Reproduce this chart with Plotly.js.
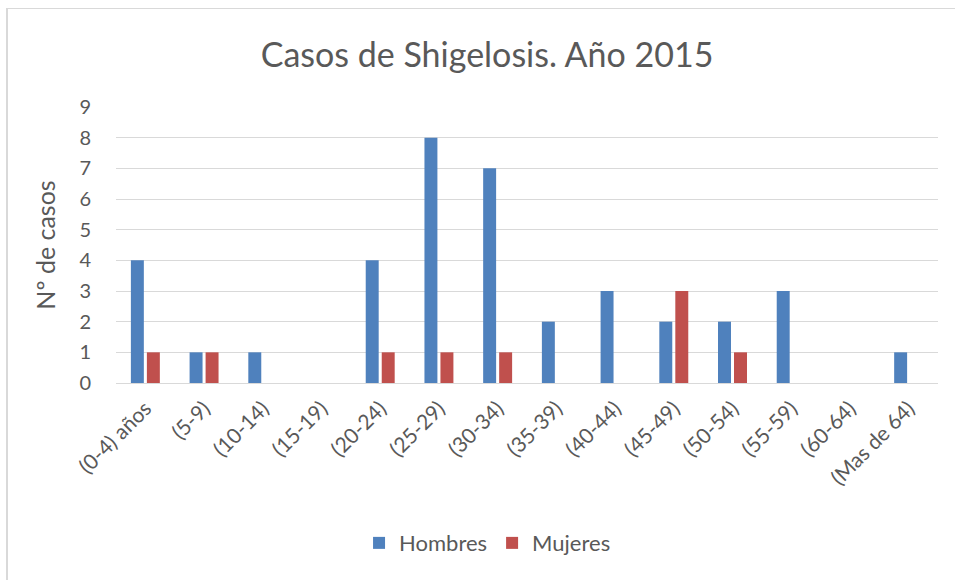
<!DOCTYPE html>
<html>
<head>
<meta charset="utf-8">
<script src="https://cdn.plot.ly/plotly-3.0.1.min.js"></script>
<style>
html,body{margin:0;padding:0;background:#fff;}
#wrap{position:relative;width:955px;height:580px;overflow:hidden;}
#chart{width:955px;height:580px;}
#frame{position:absolute;left:6px;top:8px;width:980px;height:600px;border-top:1px solid #d9d9d9;border-left:2px solid #d9d9d9;pointer-events:none;}
</style>
</head>
<body>
<div id="wrap"><div id="chart"></div><div id="frame"></div></div>
<script>
const categories = ["(0-4) años","(5-9)","(10-14)","(15-19)","(20-24)","(25-29)","(30-34)","(35-39)","(40-44)","(45-49)","(50-54)","(55-59)","(60-64)","(Mas de 64)"];
const hombres = [4,1,1,0,4,8,7,2,3,2,2,3,0,1];
const mujeres = [1,1,0,0,1,1,1,0,0,3,1,0,0,0];
const yTicks = [0,1,2,3,4,5,6,7,8,9];

const font = "Lato, 'Open Sans', sans-serif";
const traces = [
  {type:'bar', name:'Hombres', x:categories, y:hombres, marker:{color:'#4f81bd'}},
  {type:'bar', name:'Mujeres', x:categories, y:mujeres, marker:{color:'#c0504d'}}
];
const layout = {
  width:955, height:580,
  margin:{l:116, r:17, t:107, b:197},
  paper_bgcolor:'rgba(0,0,0,0)', plot_bgcolor:'rgba(0,0,0,0)',
  barmode:'group', bargap:0.455, bargroupgap:0.19,
  font:{family:font, color:'#595959', size:20},
  title:{text:'Casos de Shigelosis. Año 2015', font:{family:font, size:34, color:'#595959'}, x:0.51, xanchor:'center', y:0.905, yanchor:'middle'},
  xaxis:{type:'category', tickangle:-45, showgrid:false, showline:true, linecolor:'#d9d9d9', linewidth:1, ticks:'outside', ticklen:4, tickcolor:'rgba(0,0,0,0)', tickfont:{size:21, color:'#595959'}, fixedrange:true},
  yaxis:{range:[0,9], tickvals:yTicks, ticktext:yTicks.map(String), showgrid:true, gridcolor:'#d9d9d9', gridwidth:1, zeroline:true, zerolinecolor:'#d9d9d9', showline:false, ticks:'outside', ticklen:20, tickcolor:'rgba(0,0,0,0)', tickfont:{size:20, color:'#595959'},
    title:{text:'Nº de casos', font:{size:25, color:'#595959'}, standoff:16}},
  legend:{orientation:'h', x:0.452, xanchor:'center', y:-0.58, yanchor:'middle', font:{size:22, color:'#595959'}, itemwidth:30},
  showlegend:true
};
Plotly.newPlot('chart', traces, layout, {displayModeBar:false, staticPlot:true});
</script>
</body>
</html>
